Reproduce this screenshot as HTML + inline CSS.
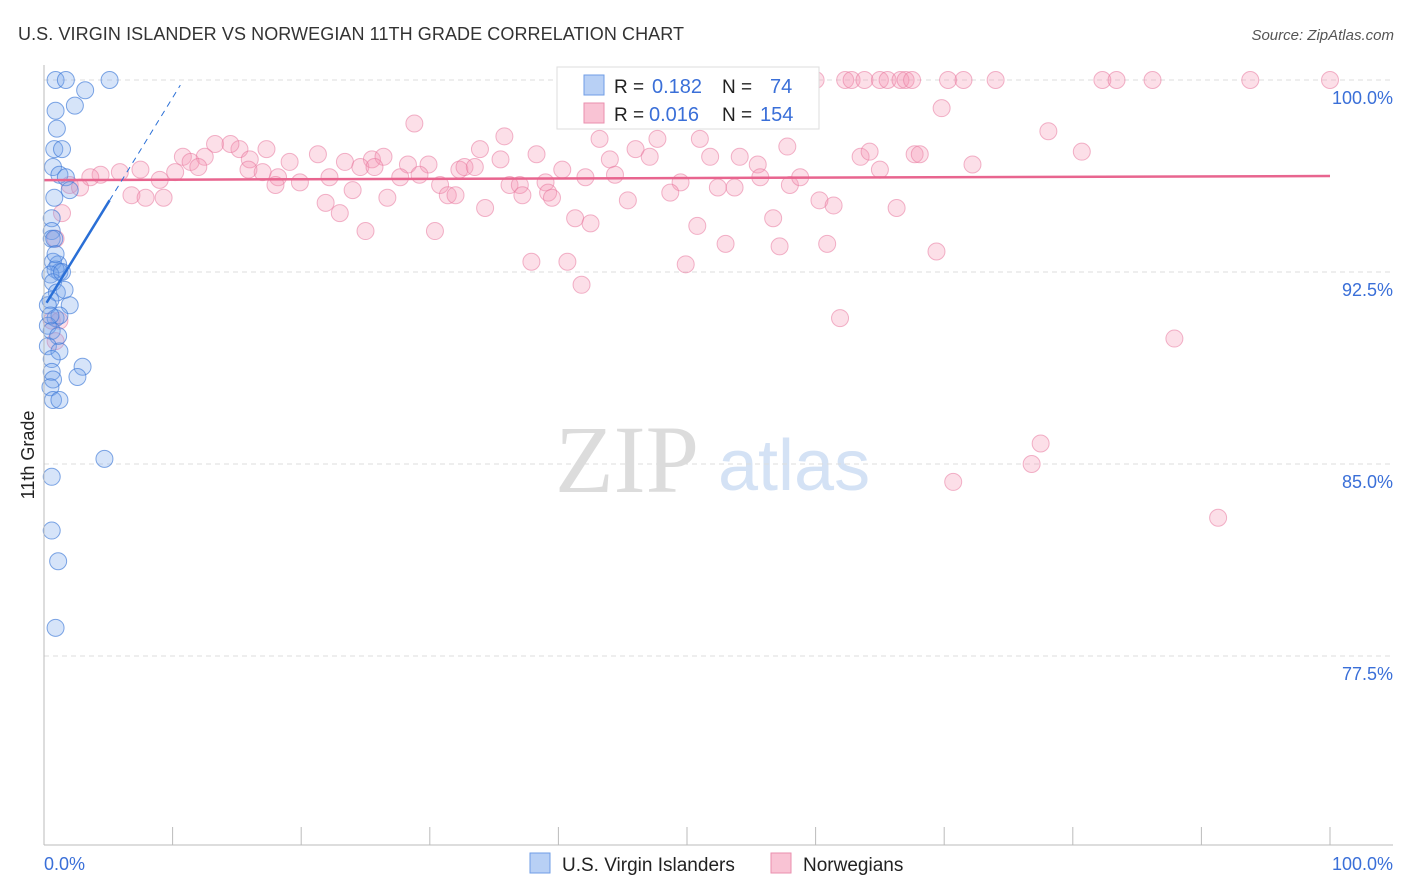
<!DOCTYPE html>
<html><head><meta charset="utf-8"><style>
body{margin:0;background:#fff;font-family:"Liberation Sans",sans-serif;}
#wrap{position:relative;width:1406px;height:892px;overflow:hidden;}
</style></head><body>
<div id="wrap">
<svg id="svg" width="1406" height="892" xmlns="http://www.w3.org/2000/svg">
<text x="18" y="40" font-size="18" fill="#333" textLength="666">U.S. VIRGIN ISLANDER VS NORWEGIAN 11TH GRADE CORRELATION CHART</text>
<text x="1394" y="40" font-size="15" fill="#555" text-anchor="end" font-style="italic">Source: ZipAtlas.com</text>
<text x="555" y="492" font-family="Liberation Serif,serif" font-size="96" fill="#dcdcdc">ZIP</text>
<text x="718" y="490" font-size="72" fill="#d4e2f5">atlas</text>
<text transform="translate(34,455) rotate(-90)" font-size="18" fill="#222" text-anchor="middle">11th Grade</text>
<g id="grid"></g><g id="marks"></g>
<line x1="44" y1="65" x2="44" y2="845" stroke="#bbb"/>
<line x1="44" y1="845" x2="1393" y2="845" stroke="#bbb"/>
<text x="44" y="870" font-size="18" fill="#3a6fd8">0.0%</text>
<text x="1393" y="870" font-size="18" fill="#3a6fd8" text-anchor="end">100.0%</text>
<g>
<rect x="557" y="67" width="262" height="62" fill="#fff" stroke="#ddd"/>
<rect x="584" y="75" width="20" height="20" fill="#b8d0f5" stroke="#6f9de6"/>
<rect x="584" y="103" width="20" height="20" fill="#f9c3d4" stroke="#ea8fae"/>
<text x="614" y="93" font-size="19" fill="#222">R =</text><text x="652" y="93" font-size="20" fill="#3a6fd8">0.182</text>
<text x="722" y="93" font-size="19" fill="#222">N =</text><text x="770" y="93" font-size="20" fill="#3a6fd8">74</text>
<text x="614" y="121" font-size="19" fill="#222">R =</text><text x="649" y="121" font-size="20" fill="#3a6fd8">0.016</text>
<text x="722" y="121" font-size="19" fill="#222">N =</text><text x="760" y="121" font-size="20" fill="#3a6fd8">154</text>
</g>
<g>
<rect x="530" y="853" width="20" height="20" fill="#b8d0f5" stroke="#6f9de6"/>
<text x="562" y="871" font-size="19" fill="#222">U.S. Virgin Islanders</text>
<rect x="771" y="853" width="20" height="20" fill="#f9c3d4" stroke="#ea8fae"/>
<text x="803" y="871" font-size="19" fill="#222">Norwegians</text>
</g>
</svg></div>
<script>
const yTicks=[100,92.5,85,77.5];
const yTickLabels=["100.0%","92.5%","85.0%","77.5%"];
const blueX=[0.9,1.7,5.1,3.2,2.4,0.9,1.0,0.8,1.4,0.7,1.2,1.7,2.0,0.8,0.6,0.6,0.6,0.8,0.7,1.1,1.2,0.9,0.5,0.7,1.0,0.5,0.3,0.9,2.0,1.2,0.3,0.6,1.1,0.3,1.2,0.6,3.0,2.6,0.6,0.7,0.5,0.7,1.2,4.7,0.6,0.6,1.1,0.9,1.6,0.5,1.4,0.9];
const blueY=[100,100,100,99.6,99.0,98.8,98.1,97.3,97.3,96.6,96.3,96.2,95.7,95.4,94.6,94.1,93.8,93.8,92.9,92.8,92.5,92.6,92.4,92.1,91.7,91.4,91.2,90.7,91.2,90.8,90.4,90.2,90.0,89.6,89.4,89.1,88.8,88.4,88.6,88.3,88.0,87.5,87.5,85.2,84.5,82.4,81.2,78.6,91.8,90.8,92.5,93.2];
const pinkX=[60.0,62.3,62.8,63.8,65.0,65.6,66.6,67.0,67.5,70.3,71.5,74.0,82.3,83.4,86.2,93.8,100,54.7,
69.8,28.8,78.1,35.8,80.7,13.3,15.2,17.3,14.5,10.8,12.5,11.4,16.0,19.1,21.3,23.4,25.5,26.4,28.3,29.9,32.3,33.9,35.5,38.3,40.3,43.2,44.0,46.0,47.1,47.7,51.0,51.8,54.1,55.5,57.8,63.5,64.2,67.7,68.1,72.2,
7.5,5.9,4.4,3.6,2.0,2.8,9.0,10.2,12.0,15.9,17.0,18.2,19.9,22.2,24.6,25.7,27.7,29.2,30.8,32.7,33.5,36.2,37.0,39.0,42.1,44.4,49.5,52.4,53.7,55.7,58.0,58.8,65.0,
6.8,7.9,9.3,18.0,21.9,23.0,24.0,26.7,31.4,32.0,34.3,37.2,39.2,39.5,41.3,42.5,45.4,48.7,50.8,53.0,56.7,57.2,60.3,60.9,61.4,66.3,69.4,25.0,30.4,37.9,40.7,41.8,49.9,61.9,87.9,77.5,76.8,70.7,91.3,
1.4,0.9,0.6,0.9,1.2];
const pinkY=[100,100,100,100,100,100,100,100,100,100,100,100,100,100,100,100,100,100,
98.9,98.3,98.0,97.8,97.2,97.5,97.3,97.3,97.5,97.0,97.0,96.8,96.9,96.8,97.1,96.8,96.9,97.0,96.7,96.7,96.5,97.3,96.9,97.1,96.5,97.7,96.9,97.3,97.0,97.7,97.7,97.0,97.0,96.7,97.4,97.0,97.2,97.1,97.1,96.7,
96.5,96.4,96.3,96.2,95.9,95.8,96.1,96.4,96.6,96.5,96.4,96.2,96.0,96.2,96.6,96.6,96.2,96.3,95.9,96.6,96.6,95.9,95.9,96.0,96.2,96.3,96.0,95.8,95.8,96.2,95.9,96.2,96.5,
95.5,95.4,95.4,95.9,95.2,94.8,95.7,95.4,95.5,95.5,95.0,95.5,95.6,95.4,94.6,94.4,95.3,95.6,94.3,93.6,94.6,93.5,95.3,93.6,95.1,95.0,93.3,94.1,94.1,92.9,92.9,92.0,92.8,90.7,89.9,85.8,85.0,84.3,82.9,
94.8,93.8,90.6,89.8,90.6];
const blueTrendX=[0.2,5.1,10.6];
const blueTrendY=[91.3,95.3,99.8];
const pinkTrendX=[0,100];
const pinkTrendY=[96.09,96.25];
const xTicks=[0,10,20,30,40,50,60,70,80,90,100];

const X=v=>44+v*12.86, Y=v=>80+(100-v)*25.6;
const NS="http://www.w3.org/2000/svg";
const grid=document.getElementById('grid'), marks=document.getElementById('marks');
function mk(t,a,p){const e=document.createElementNS(NS,t);for(const k in a)e.setAttribute(k,a[k]);p.appendChild(e);return e;}
yTicks.forEach((v,i)=>{
 const l=mk('line',{x1:44,x2:1393,y1:Y(v),y2:Y(v),stroke:'#ddd','stroke-dasharray':'5,4'},grid);
 
 
 const t=mk('text',{x:1393,y:Y(v)+24,'font-size':18,fill:'#3a6fd8','text-anchor':'end'},grid);
 t.textContent=yTickLabels[i];
 
 
});
xTicks.forEach(v=>{
 const l=mk('line',{x1:X(v),x2:X(v),y1:827,y2:845,stroke:'#bbb'},grid);
 
 
});
pinkX.forEach((v,i)=>{
 const c=mk('circle',{cx:X(v),cy:Y(pinkY[i]),r:8.5,fill:'rgba(244,150,180,0.3)',stroke:'rgba(232,120,158,0.55)','stroke-width':1},marks);
 
 
});
blueX.forEach((v,i)=>{
 const c=mk('circle',{cx:X(v),cy:Y(blueY[i]),r:8.5,fill:'rgba(120,165,235,0.3)',stroke:'rgba(60,120,215,0.65)','stroke-width':1},marks);
 
 
});
const pl=mk('line',{x1:X(pinkTrendX[0]),y1:Y(pinkTrendY[0]),x2:X(pinkTrendX[1]),y2:Y(pinkTrendY[1]),stroke:'#e8658f','stroke-width':2.5},marks);


const bl=mk('line',{x1:X(blueTrendX[0]),y1:Y(blueTrendY[0]),x2:X(blueTrendX[1]),y2:Y(blueTrendY[1]),stroke:'#2a6fd6','stroke-width':2.5},marks);


const bd=mk('line',{x1:X(blueTrendX[1]),y1:Y(blueTrendY[1]),x2:X(blueTrendX[2]),y2:Y(blueTrendY[2]),stroke:'#2a6fd6','stroke-width':1,'stroke-dasharray':'6,5'},marks);


</script>
</body></html>
